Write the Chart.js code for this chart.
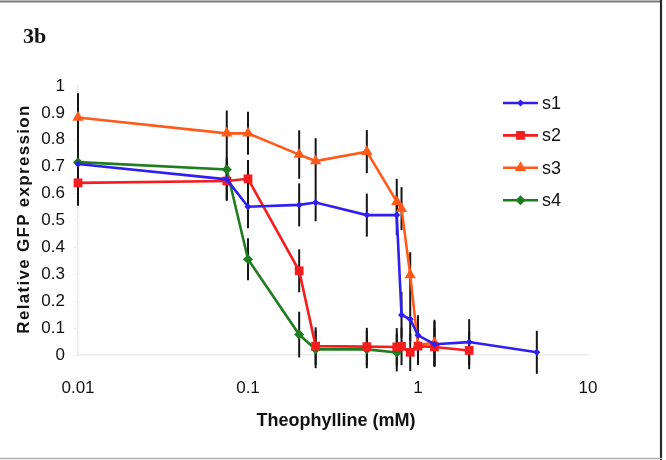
<!DOCTYPE html>
<html>
<head>
<meta charset="utf-8">
<script src="https://cdn.jsdelivr.net/npm/chart.js@4.4.1/dist/chart.umd.min.js"></script>
<style>
html,body{margin:0;padding:0;background:#fff;}
#wrap{width:666px;height:460px;position:relative;}
</style>
</head>
<body>
<div id="wrap"><canvas id="c" width="666" height="460"></canvas></div>
<script>
// ---- data ----
const seriesNames = ['s1', 's2', 's3', 's4'];
const s1X = [0.01, 0.075, 0.1, 0.2, 0.25, 0.5, 0.75, 0.8, 0.9, 1, 1.25, 2, 5];
const s1Y = [0.71, 0.653, 0.551, 0.558, 0.567, 0.52, 0.52, 0.149, 0.133, 0.073, 0.04, 0.048, 0.01];
const s1Err = [0.10, 0.08, 0.08, 0.08, 0.07, 0.08, 0.075, 0.085, 0.08, 0.075, 0.085, 0.085, 0.08];
const s2X = [0.01, 0.075, 0.1, 0.2, 0.25, 0.5, 0.75, 0.8, 0.9, 1, 1.25, 2];
const s2Y = [0.64, 0.647, 0.655, 0.313, 0.033, 0.031, 0.03, 0.032, 0.01, 0.033, 0.03, 0.017];
const s2Err = [0.085, 0.07, 0.07, 0.08, 0.07, 0.07, 0.07, 0.07, 0.07, 0.07, 0.07, 0.07];
const s3X = [0.01, 0.075, 0.1, 0.2, 0.25, 0.5, 0.75, 0.8, 0.9, 1, 1.25];
const s3Y = [0.883, 0.824, 0.824, 0.745, 0.721, 0.756, 0.57, 0.544, 0.297, 0.037, 0.046];
const s3Err = [0.09, 0.085, 0.08, 0.09, 0.085, 0.08, 0.085, 0.08, 0.085, 0.07, 0.085];
const s4X = [0.01, 0.075, 0.1, 0.2, 0.25, 0.5, 0.75];
const s4Y = [0.717, 0.69, 0.356, 0.076, 0.021, 0.021, 0.009];
const s4Err = [0.10, 0.05, 0.078, 0.085, 0.07, 0.07, 0.07];
const xTickValues = [0.01, 0.1, 1, 10];
const xTickLabels = ['0.01', '0.1', '1', '10'];
const yTickLabels = ['0', '0.1', '0.2', '0.3', '0.4', '0.5', '0.6', '0.7', '0.8', '0.9', '1'];
const panelLabel = '3b';
const xTitle = 'Theophylline (mM)';
const yTitle = 'Relative GFP expression';

// ---- styles ----
const colors = ['#2f1ff0', '#f51d1d', '#ff5a1a', '#1e7d1e'];
const pointStyles = ['rectRot', 'rect', 'triangle', 'rectRot'];
const pointRadii = [3.5, 6.2, 6.5, 5];
const FONT = "'Liberation Sans', Arial, sans-serif";

const xs = [s1X, s2X, s3X, s4X];
const ys = [s1Y, s2Y, s3Y, s4Y];
const errs = [s1Err, s2Err, s3Err, s4Err];

const datasets = seriesNames.map((name, i) => ({
  label: name,
  data: xs[i].map((x, j) => ({x: x, y: ys[i][j]})),
  errors: errs[i],
  borderColor: colors[i],
  backgroundColor: colors[i],
  borderWidth: 2.6,
  pointStyle: pointStyles[i],
  pointRadius: pointRadii[i],
  pointBorderWidth: 0,
  pointBackgroundColor: colors[i],
  tension: 0,
  clip: false
}));

const errorBars = {
  id: 'errorBars',
  beforeDatasetsDraw(chart) {
    const ctx = chart.ctx, xS = chart.scales.x, yS = chart.scales.y;
    ctx.save();
    ctx.strokeStyle = '#151515';
    ctx.lineWidth = 2;
    chart.data.datasets.forEach(ds => {
      ds.data.forEach((p, j) => {
        const e = ds.errors[j];
        const px = xS.getPixelForValue(p.x);
        ctx.beginPath();
        ctx.moveTo(px, yS.getPixelForValue(p.y + e));
        ctx.lineTo(px, yS.getPixelForValue(p.y - e));
        ctx.stroke();
      });
    });
    ctx.restore();
  }
};

function drawMarker(ctx, style, x, y, r) {
  ctx.beginPath();
  if (style === 'rect') {
    const s = Math.SQRT1_2 * r;
    ctx.rect(x - s, y - s, 2 * s, 2 * s);
  } else if (style === 'rectRot') {
    ctx.moveTo(x, y - r); ctx.lineTo(x + r, y); ctx.lineTo(x, y + r); ctx.lineTo(x - r, y); ctx.closePath();
  } else if (style === 'triangle') {
    ctx.moveTo(x, y - r);
    ctx.lineTo(x + Math.sin(2 * Math.PI / 3) * r, y - Math.cos(2 * Math.PI / 3) * r);
    ctx.lineTo(x + Math.sin(4 * Math.PI / 3) * r, y - Math.cos(4 * Math.PI / 3) * r);
    ctx.closePath();
  }
  ctx.fill();
}

const decorations = {
  id: 'decorations',
  afterDraw(chart) {
    const ctx = chart.ctx;
    ctx.save();
    // legend
    chart.data.datasets.forEach((ds, i) => {
      const y = 103 + i * 32.4;
      ctx.strokeStyle = ds.borderColor;
      ctx.fillStyle = ds.borderColor;
      ctx.lineWidth = 2.6;
      ctx.beginPath(); ctx.moveTo(503, y); ctx.lineTo(538, y); ctx.stroke();
      drawMarker(ctx, ds.pointStyle, 520.5, y, ds.pointRadius);
      ctx.fillStyle = '#111';
      ctx.font = '18px ' + FONT;
      ctx.textAlign = 'left';
      ctx.textBaseline = 'middle';
      ctx.fillText(ds.label, 542, y + 1);
    });
    // panel label
    ctx.fillStyle = '#111';
    ctx.font = "bold 22px 'Liberation Serif', 'Times New Roman', serif";
    ctx.textAlign = 'left';
    ctx.textBaseline = 'alphabetic';
    ctx.fillText(panelLabel, 23, 43);
    // x title
    ctx.font = 'bold 18px ' + FONT;
    ctx.textAlign = 'center';
    ctx.textBaseline = 'middle';
    ctx.fillText(xTitle, 336, 421);
    // y title
    ctx.save();
    ctx.translate(24, 219);
    ctx.rotate(-Math.PI / 2);
    ctx.font = 'bold 17px ' + FONT;
    ctx.letterSpacing = '1.3px';
    ctx.textAlign = 'center';
    ctx.textBaseline = 'middle';
    ctx.fillText(yTitle, 0, 0);
    ctx.restore();
    // frame
    ctx.lineWidth = 2;
    ctx.strokeStyle = '#7a7a7a';
    ctx.beginPath(); ctx.moveTo(0, 1.5); ctx.lineTo(662, 1.5); ctx.stroke();
    ctx.strokeStyle = '#2a2a2a';
    ctx.lineWidth = 2.2;
    ctx.beginPath(); ctx.moveTo(661, 0); ctx.lineTo(661, 460); ctx.stroke();
    ctx.strokeStyle = '#b0b0b0';
    ctx.lineWidth = 1.5;
    ctx.beginPath(); ctx.moveTo(0, 458.5); ctx.lineTo(662, 458.5); ctx.stroke();
    ctx.restore();
  }
};

Chart.defaults.font.family = FONT;
Chart.defaults.color = '#111';

new Chart(document.getElementById('c'), {
  type: 'line',
  data: { datasets: datasets },
  options: {
    responsive: false,
    animation: false,
    layout: { padding: { left: 0, right: 78, top: 86, bottom: 0 } },
    plugins: { legend: { display: false }, tooltip: { enabled: false } },
    scales: {
      x: {
        type: 'logarithmic',
        min: 0.01, max: 10,
        afterBuildTicks(scale) { scale.ticks = xTickValues.map(v => ({value: v})); },
        afterFit(scale) { scale.height = 105; },
        ticks: {
          autoSkip: false, maxRotation: 0,
          font: { size: 17 },
          padding: 18,
          callback(v) { const k = xTickValues.indexOf(v); return k >= 0 ? xTickLabels[k] : ''; }
        },
        grid: { display: false, drawTicks: true, tickLength: 5, color: '#eeeeee' },
        border: { display: true, color: '#ececec', width: 1.5 }
      },
      y: {
        type: 'linear',
        min: 0, max: 1,
        afterBuildTicks(scale) { scale.ticks = yTickLabels.map(t => ({value: parseFloat(t)})); },
        afterFit(scale) { scale.width = 78; },
        ticks: {
          font: { size: 17 },
          padding: 8,
          callback(v) { const k = yTickLabels.map(parseFloat).indexOf(Math.round(v * 10) / 10); return k >= 0 ? yTickLabels[k] : ''; }
        },
        grid: { display: true, drawOnChartArea: false, drawTicks: true, tickLength: 5, color: '#f0f0f0' },
        border: { display: true, color: '#ececec', width: 1.5 }
      }
    }
  },
  plugins: [errorBars, decorations]
});
</script>
</body>
</html>
